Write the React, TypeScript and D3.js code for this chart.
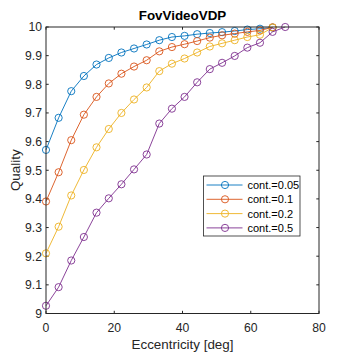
import React, { useEffect, useRef } from 'react';
import * as d3 from 'd3';

// eccentricity of each sample [deg]
const ecc = [0, 3.7, 7.4, 11.1, 14.8, 18.4, 22.1, 25.8, 29.5, 33.2, 36.9, 40.6, 44.3, 48.0, 51.6, 55.3, 59.0, 62.7, 66.4, 70.1];

const q005 = [9.571, 9.683, 9.776, 9.829, 9.869, 9.892, 9.911, 9.925, 9.939, 9.954, 9.965, 9.969, 9.975, 9.979, 9.982, 9.986, 9.991, 9.994, 9.998];
const q01 = [9.391, 9.493, 9.605, 9.694, 9.756, 9.803, 9.837, 9.862, 9.884, 9.915, 9.930, 9.940, 9.951, 9.963, 9.971, 9.977, 9.983, 9.988, 9.999];
const q02 = [9.210, 9.303, 9.412, 9.501, 9.580, 9.644, 9.700, 9.747, 9.789, 9.846, 9.872, 9.890, 9.911, 9.932, 9.943, 9.954, 9.965, 9.973, 9.998];
const q05 = [9.027, 9.092, 9.185, 9.267, 9.352, 9.402, 9.451, 9.503, 9.555, 9.663, 9.715, 9.756, 9.807, 9.853, 9.875, 9.899, 9.928, 9.945, 9.983, 10.0];

const seriesNames = ['cont.=0.05', 'cont.=0.1', 'cont.=0.2', 'cont.=0.5'];
const seriesValues = [q005, q01, q02, q05];
const colors = ['#0072BD', '#D95319', '#EDB120', '#7E2F8E'];

const xTicks = [0, 20, 40, 60, 80];
const yTicks = [9, 9.1, 9.2, 9.3, 9.4, 9.5, 9.6, 9.7, 9.8, 9.9, 10];

export default function App() {
  const ref = useRef<SVGSVGElement>(null);

  useEffect(() => {
    const width = 354;
    const height = 354;
    const margin = { top: 27, right: 35, bottom: 40.5, left: 46 };

    const svg = d3.select(ref.current);
    svg.selectAll('*').remove();
    svg.attr('width', width).attr('height', height)
      .style('font-family', '"Liberation Sans", Arial, sans-serif');

    svg.append('rect').attr('width', width).attr('height', height).attr('fill', '#fff');

    const x = d3.scaleLinear().domain([0, 80]).range([margin.left, width - margin.right]);
    const y = d3.scaleLinear().domain([9, 10]).range([height - margin.bottom, margin.top]);

    const g = svg.append('g');
    const axisColor = '#262626';

    // ticks (inside, all four sides)
    const tl = 2.7;
    xTicks.forEach(t => {
      g.append('line').attr('x1', x(t)).attr('x2', x(t)).attr('y1', y(9)).attr('y2', y(9) - tl).attr('stroke', axisColor);
      g.append('line').attr('x1', x(t)).attr('x2', x(t)).attr('y1', y(10)).attr('y2', y(10) + tl).attr('stroke', axisColor);
      g.append('text').attr('x', x(t)).attr('y', y(9) + 18).attr('text-anchor', 'middle')
        .attr('font-size', 12.2).attr('fill', axisColor).text(t);
    });
    yTicks.forEach(t => {
      g.append('line').attr('x1', x(0)).attr('x2', x(0) + tl).attr('y1', y(t)).attr('y2', y(t)).attr('stroke', axisColor);
      g.append('line').attr('x1', x(80)).attr('x2', x(80) - tl).attr('y1', y(t)).attr('y2', y(t)).attr('stroke', axisColor);
      g.append('text').attr('x', x(0) - 4).attr('y', y(t) + 4.4).attr('text-anchor', 'end')
        .attr('font-size', 12.2).attr('fill', axisColor).text(d3.format('~g')(t));
    });

    // series
    const line = d3.line<[number, number]>().x(d => x(d[0])).y(d => y(d[1]));
    seriesValues.forEach((vals, i) => {
      const pts: [number, number][] = vals.map((v, j) => [ecc[j], v]);
      g.append('path').attr('d', line(pts)).attr('fill', 'none').attr('stroke', colors[i]).attr('stroke-width', 0.9);
      g.selectAll(null).data(pts).enter().append('circle')
        .attr('cx', d => x(d[0])).attr('cy', d => y(d[1])).attr('r', 3.6)
        .attr('fill', 'none').attr('stroke', colors[i]).attr('stroke-width', 0.9);
    });

    // box
    g.append('rect').attr('x', x(0)).attr('y', y(10)).attr('width', x(80) - x(0)).attr('height', y(9) - y(10))
      .attr('fill', 'none').attr('stroke', axisColor).attr('stroke-width', 1);

    // labels
    svg.append('text').attr('x', (x(0) + x(80)) / 2).attr('y', 349).attr('text-anchor', 'middle')
      .attr('font-size', 13.4).attr('fill', axisColor).text('Eccentricity [deg]');
    svg.append('text').attr('transform', `translate(19.5,${(y(9) + y(10)) / 2}) rotate(-90)`)
      .attr('text-anchor', 'middle').attr('font-size', 13.4).attr('fill', axisColor).text('Quality');
    svg.append('text').attr('x', (x(0) + x(80)) / 2).attr('y', 20).attr('text-anchor', 'middle')
      .attr('font-size', 13.4).attr('font-weight', 'bold').attr('fill', '#000').text('FovVideoVDP');

    // legend
    const lg = svg.append('g').attr('transform', 'translate(203.5,176)');
    lg.append('rect').attr('width', 96.5).attr('height', 60).attr('fill', '#fff').attr('stroke', axisColor).attr('stroke-width', 0.8);
    seriesNames.forEach((name, i) => {
      const ly = 9 + i * 14.3;
      lg.append('line').attr('x1', 3).attr('x2', 39).attr('y1', ly).attr('y2', ly).attr('stroke', colors[i]).attr('stroke-width', 0.9);
      lg.append('circle').attr('cx', 21.5).attr('cy', ly).attr('r', 3.6).attr('fill', 'none').attr('stroke', colors[i]).attr('stroke-width', 0.9);
      lg.append('text').attr('x', 44).attr('y', ly + 4).attr('font-size', 11).attr('fill', '#000').text(name);
    });
  }, []);

  return <svg ref={ref} style={{ position: 'absolute', left: 0, top: 0 }} />;
}
